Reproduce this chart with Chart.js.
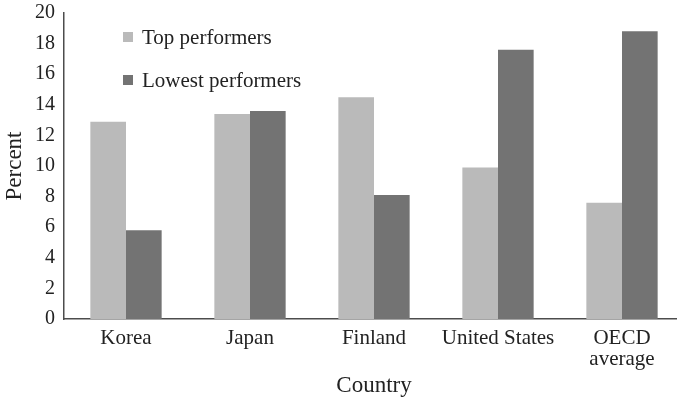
<!DOCTYPE html>
<html>
<head>
<meta charset="utf-8">
<script src="https://cdn.jsdelivr.net/npm/chart.js@4/dist/chart.umd.min.js"></script>
<style>
    html, body { margin: 0; padding: 0; background: #fff; overflow: hidden; }
    #wrap { position: relative; width: 684px; height: 399px; }
</style>
</head>
<body>
<div id="wrap"><canvas id="chart"></canvas></div>
<script>
const countries = ['Korea', 'Japan', 'Finland', 'United States', ['OECD', 'average']];
const topPerformers = [12.9, 13.4, 14.5, 9.9, 7.6];
const lowestPerformers = [5.8, 13.6, 8.1, 17.6, 18.8];
const seriesNames = ['Top performers', 'Lowest performers'];

const serif = 'Liberation Serif, Times New Roman, serif';
const textColor = '#222';

// legend drawn as two stacked rows inside the plot, like the original
const stackedLegend = {
    id: 'stackedLegend',
    afterDatasetsDraw(chart) {
        const ctx = chart.ctx;
        ctx.save();
        ctx.font = '21px ' + serif;
        ctx.textBaseline = 'middle';
        ctx.textAlign = 'left';
        chart.data.datasets.forEach((ds, i) => {
            const y = 37 + i * 43;
            ctx.fillStyle = ds.backgroundColor;
            ctx.fillRect(123, y - 5, 10, 10);
            ctx.fillStyle = textColor;
            ctx.fillText(ds.label, 142, y + 1);
        });
        ctx.restore();
    }
};

new Chart(document.getElementById('chart'), {
    type: 'bar',
    data: {
        labels: countries,
        datasets: [
            { label: seriesNames[0], data: topPerformers, backgroundColor: '#bababa' },
            { label: seriesNames[1], data: lowestPerformers, backgroundColor: '#737373' }
        ]
    },
    options: {
        responsive: true,
        maintainAspectRatio: false,
        animation: false,
        categoryPercentage: 0.575,
        barPercentage: 1.0,
        layout: { padding: { top: 0, left: 0, right: 0, bottom: 0 } },
        plugins: {
            legend: { display: false },
            tooltip: { enabled: false }
        },
        scales: {
            x: {
                grid: { display: false, drawTicks: false },
                border: { display: true, color: '#4d4d4d', width: 1.5 },
                ticks: {
                    color: textColor,
                    padding: 9,
                    maxRotation: 0,
                    font: { family: serif, size: 21, lineHeight: 1 }
                },
                title: {
                    display: true,
                    text: 'Country',
                    color: textColor,
                    padding: { top: -5, bottom: 2 },
                    font: { family: serif, size: 23, lineHeight: 1 }
                }
            },
            y: {
                min: 0,
                max: 20,
                grid: { display: false, drawTicks: false },
                border: { display: true, color: '#4d4d4d', width: 1.5 },
                ticks: {
                    stepSize: 2,
                    color: textColor,
                    padding: 9,
                    font: { family: serif, size: 20, lineHeight: 0.4 }
                },
                title: {
                    display: true,
                    text: 'Percent',
                    color: textColor,
                    padding: { top: 3, bottom: 0 },
                    font: { family: serif, size: 23, lineHeight: 1 }
                }
            }
        }
    },
    plugins: [stackedLegend]
});
</script>
</body>
</html>
